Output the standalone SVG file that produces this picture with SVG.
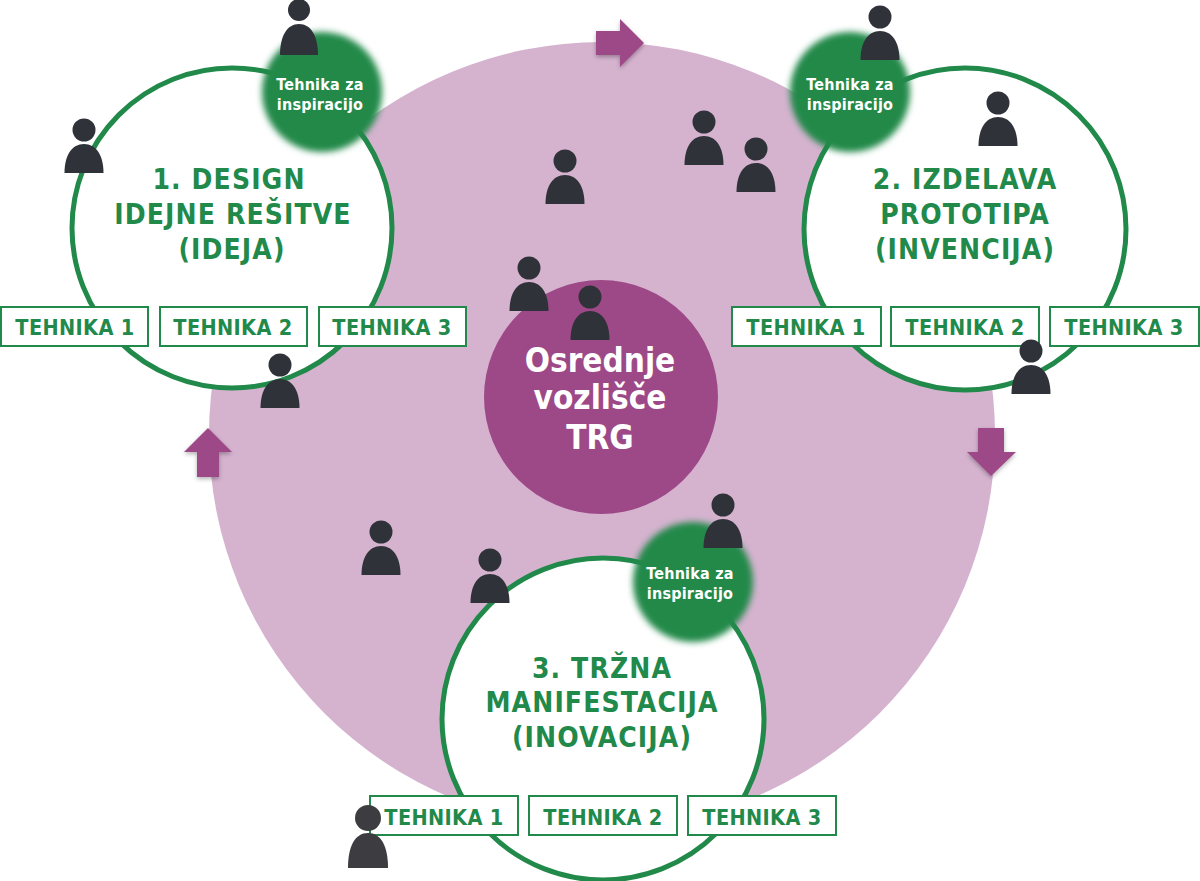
<svg xmlns="http://www.w3.org/2000/svg" width="1200" height="881" viewBox="0 0 1200 881">
<style>
text{font-family:"DejaVu Sans",sans-serif;font-weight:700;font-stretch:condensed;text-anchor:middle}
.big{fill:#d5b3cf}
.ring{fill:#fff;stroke:#21894a;stroke-width:5}
.tech{fill:#fff;stroke:#21894a;stroke-width:2}
.tt{font-size:21.500px;letter-spacing:.35px;fill:#21894a}
.tl{font-size:28px;letter-spacing:1.100px;fill:#21894a}
.ins{font-size:16px;letter-spacing:.2px;fill:#fff}
.hub{font-size:33px;fill:#fff}
.arr{fill:#9e4987;filter:url(#sh)}
.glow{fill:#21894a;filter:url(#bl)}
.p{fill:#30323a}
</style>
<defs>
<filter id="bl" x="-20%" y="-20%" width="140%" height="140%"><feGaussianBlur stdDeviation="3"/></filter>
<filter id="sh" x="-30%" y="-30%" width="160%" height="160%"><feDropShadow dx="0" dy="2" stdDeviation="2" flood-color="#000" flood-opacity=".3"/></filter>
<g id="person"><circle cx="0" cy="-43" r="11.500"/><path d="M-19.500 0C-19.500-18-12-29 0-29S19.500-18 19.500 0Z"/></g>
</defs>
<circle class="big" cx="602" cy="435" r="393"/>
<g id="hub"><circle cx="601" cy="397" r="117" fill="#9e4987"/>
<text class="hub" x="600" y="372">Osrednje</text><text class="hub" x="600" y="409">vozlišče</text><text class="hub" x="600" y="449">TRG</text></g>
<g id="connectors">
<path class="arr" d="M596 31H620V19L644 43L620 67V55H596Z"/>
<path class="arr" d="M208 428L232 452H219V477H197V452H184Z"/>
<path class="arr" d="M978 428H1004V452H1016L991 476L967 452H978Z"/>
</g>
<g id="node1"><circle class="ring" cx="232" cy="228" r="160"/>
<circle class="glow" cx="322" cy="92" r="60"/>
<text class="ins" x="320" y="90">Tehnika za</text><text class="ins" x="320" y="110">inspiracijo</text>
<text class="tl" x="229" y="189">1. DESIGN</text><text class="tl" x="233" y="224">IDEJNE REŠITVE</text><text class="tl" x="232" y="259">(IDEJA)</text>
<rect class="tech" x="1" y="307" width="147" height="39"/><text class="tt" x="75" y="335">TEHNIKA 1</text>
<rect class="tech" x="160" y="307" width="147" height="39"/><text class="tt" x="233" y="335">TEHNIKA 2</text>
<rect class="tech" x="319" y="307" width="147" height="39"/><text class="tt" x="392" y="335">TEHNIKA 3</text></g>
<g id="node2"><circle class="ring" cx="965" cy="229" r="161"/>
<circle class="glow" cx="850" cy="92" r="60"/>
<text class="ins" x="850" y="90">Tehnika za</text><text class="ins" x="850" y="110">inspiracijo</text>
<text class="tl" x="965" y="189">2. IZDELAVA</text><text class="tl" x="965" y="224">PROTOTIPA</text><text class="tl" x="965" y="259">(INVENCIJA)</text>
<rect class="tech" x="732" y="307" width="149" height="39"/><text class="tt" x="806" y="335">TEHNIKA 1</text>
<rect class="tech" x="891" y="307" width="148" height="39"/><text class="tt" x="965" y="335">TEHNIKA 2</text>
<rect class="tech" x="1050" y="307" width="149" height="39"/><text class="tt" x="1124" y="335">TEHNIKA 3</text></g>
<g id="node3"><circle class="ring" cx="603" cy="719" r="161"/>
<circle class="glow" cx="693" cy="582" r="60"/>
<text class="ins" x="690" y="579">Tehnika za</text><text class="ins" x="690" y="599">inspiracijo</text>
<text class="tl" x="602" y="678">3. TRŽNA</text><text class="tl" x="602" y="712">MANIFESTACIJA</text><text class="tl" x="602" y="747">(INOVACIJA)</text>
<rect class="tech" x="370" y="796" width="148" height="39"/><text class="tt" x="444" y="825">TEHNIKA 1</text>
<rect class="tech" x="529" y="796" width="148" height="39"/><text class="tt" x="603" y="825">TEHNIKA 2</text>
<rect class="tech" x="688" y="796" width="148" height="39"/><text class="tt" x="762" y="825">TEHNIKA 3</text></g>
<g id="people" class="p">
<circle cx="299" cy="10" r="11"/><path d="M280 55C280 36 287 24 299 24S318 36 318 55Z"/>
<use href="#person" x="84" y="173"/><use href="#person" x="280" y="408"/>
<use href="#person" x="565" y="204"/><use href="#person" x="704" y="165"/><use href="#person" x="756" y="192"/>
<use href="#person" x="880" y="60"/><use href="#person" x="998" y="146"/><use href="#person" x="1031" y="394"/>
<use href="#person" x="529" y="311"/><use href="#person" x="590" y="340"/>
<use href="#person" x="381" y="575"/><use href="#person" x="490" y="603"/><use href="#person" x="723" y="548"/>
<g fill="#3d3d41"><circle cx="368" cy="818" r="13"/><path d="M348 868C348 846 355 833 368 833S388 846 388 868Z"/></g>
</g>
</svg>
